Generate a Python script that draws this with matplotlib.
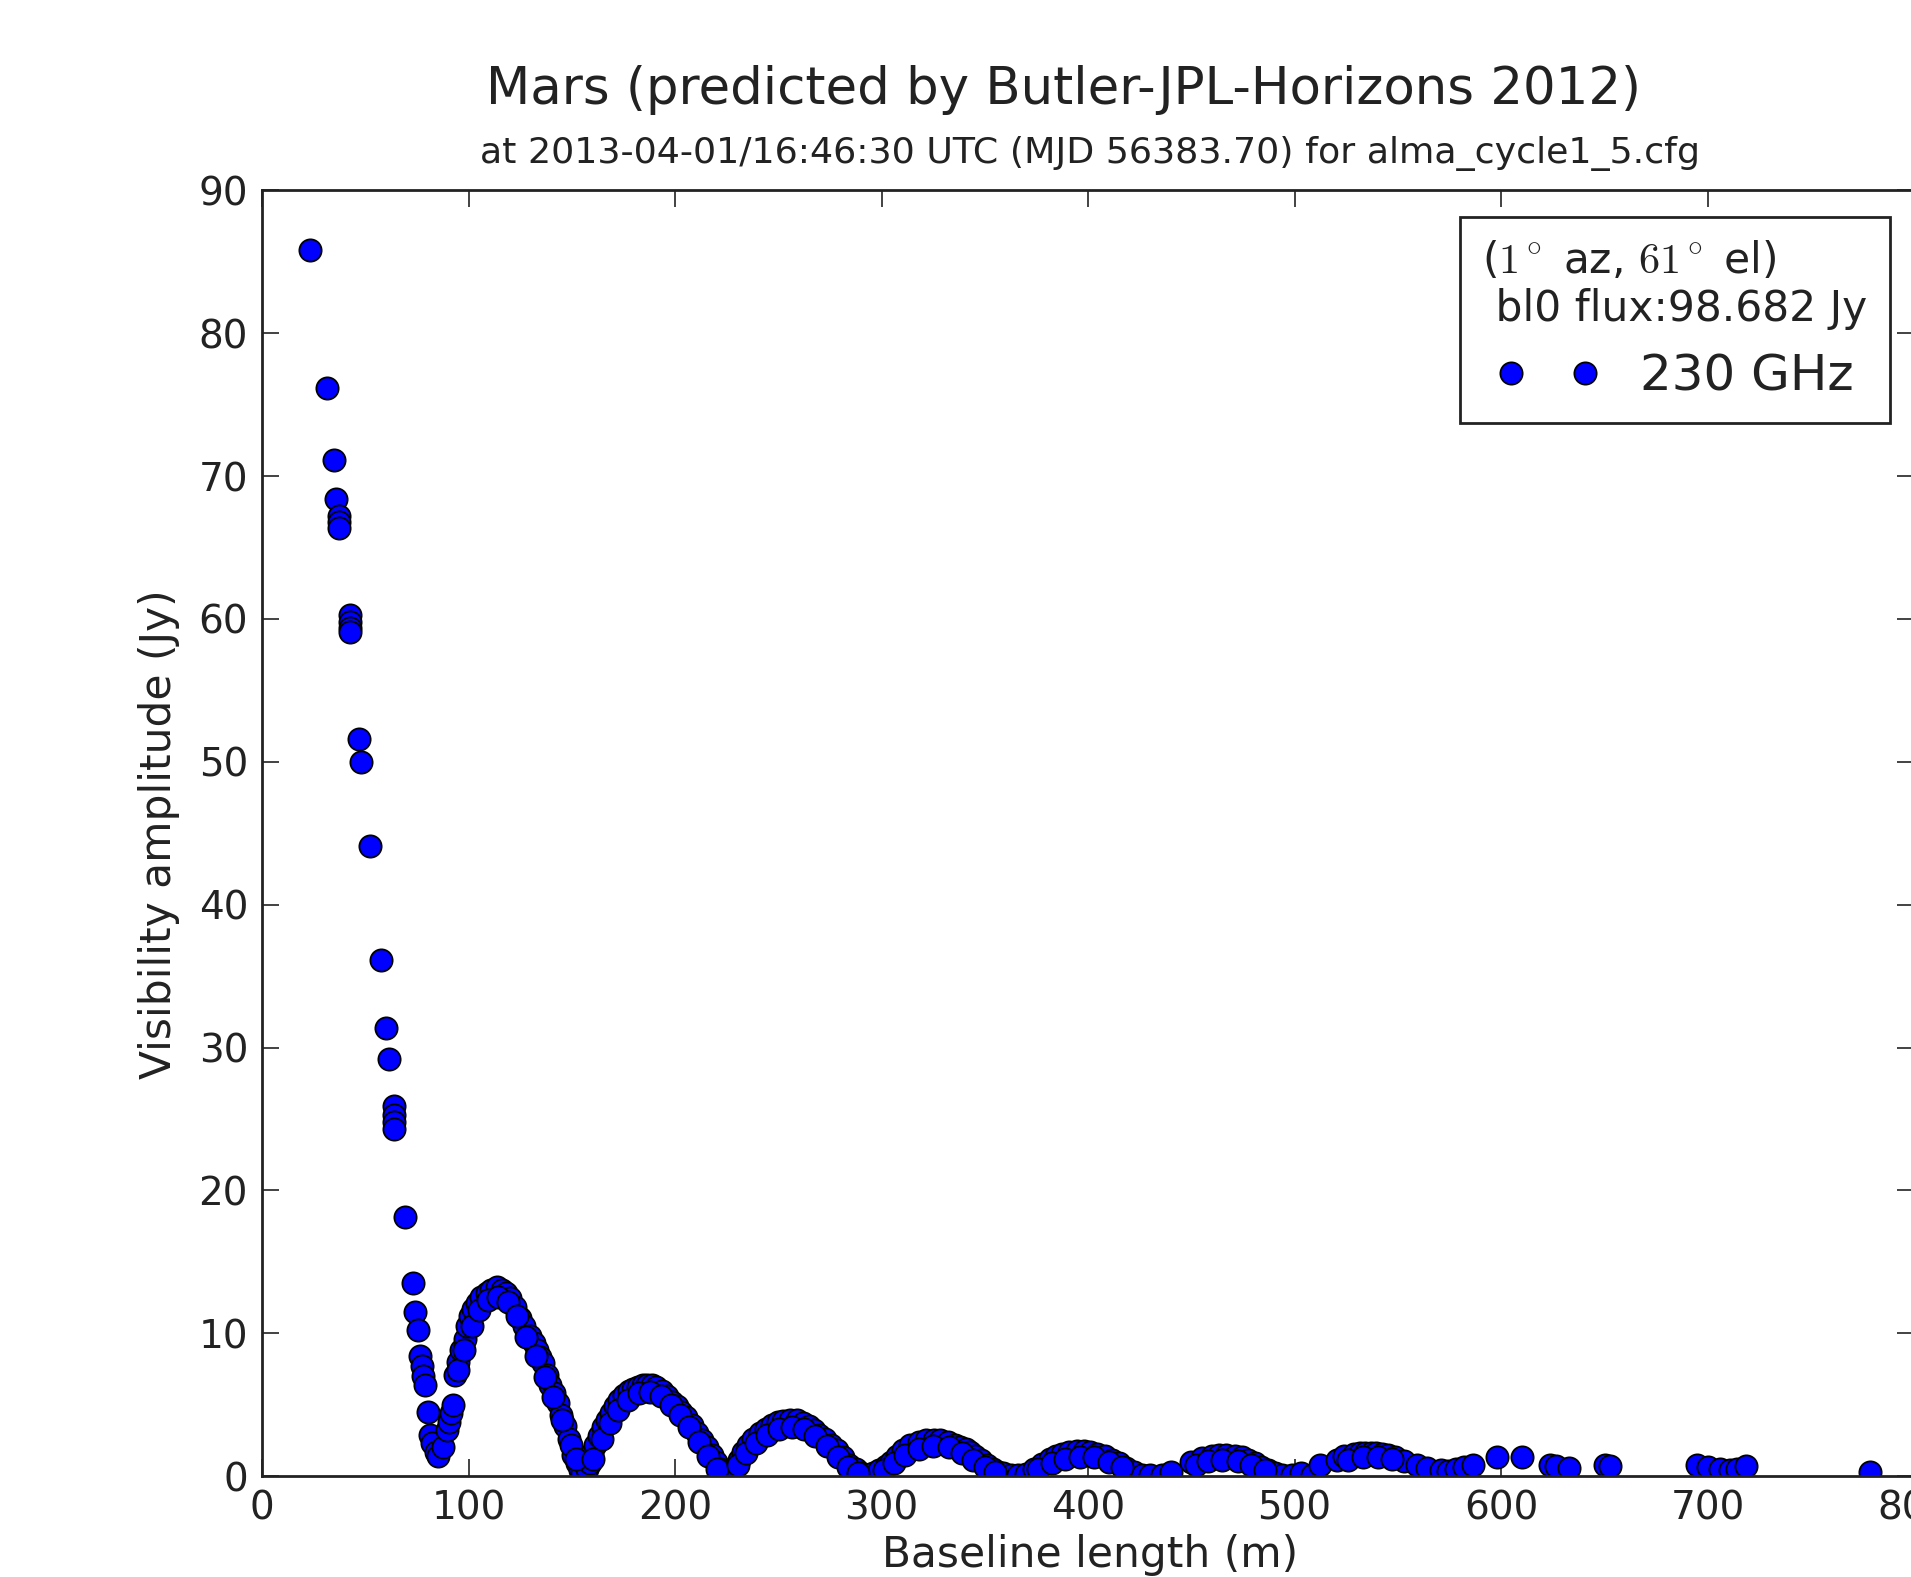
import matplotlib
matplotlib.use("Agg")
import matplotlib.pyplot as plt

# baseline length (m) and visibility amplitude (Jy)
baseline_m = [
    23.4, 31.3, 34.9, 36.0, 37.2, 37.3, 37.4, 42.4, 42.6, 42.6, 42.5,
    47.2, 48.1, 52.5, 57.8, 60.2, 61.4, 63.8, 63.9, 64.0, 63.9, 69.1,
    73.3, 74.1, 75.7, 76.5, 77.5, 78.1, 78.9, 80.5, 81.4, 82.2, 84.2, 85.4,
    87.5, 89.6, 90.4, 91.3, 92.5,
    93.5, 95.1, 96.5, 98.3, 99.5, 100.7, 102.3, 104.0, 106.0, 108.8, 111.0,
    113.7, 116.0, 118.0, 120.1, 122.5, 124.9, 127.0, 129.8, 131.5, 133.0,
    134.5, 136.2, 138.0, 139.5, 141.5, 143.5, 145.0, 146.7, 148.5, 150.8,
    152.5, 154.0, 155.0,
    157.5, 158.8, 160.0, 161.3, 163.0, 165.0, 166.9, 169.0, 170.9, 173.0,
    175.5, 177.5, 179.8, 182.0, 184.5, 186.5, 188.7, 191.0, 193.5, 196.0,
    198.5, 200.8, 203.0, 205.5, 208.1, 210.5, 212.9, 215.5, 217.8, 220.0,
    221.8, 223.5,
    227.0, 229.0, 231.0, 233.0, 235.5, 238.0, 241.2, 244.0, 247.0, 250.0,
    252.4, 255.5, 258.9, 262.1, 265.0, 267.5, 269.9, 272.5, 275.5, 278.5,
    281.5, 284.5, 287.5, 290.0, 292.3,
    296.0, 299.0, 302.0, 304.5, 307.5, 310.5, 314.0, 318.3, 321.5, 325.2,
    328.5, 332.0, 335.6, 338.0, 340.8, 343.0, 345.1, 348.0, 351.0, 353.8,
    356.5, 358.9, 362.5, 366.0,
    370.2, 374.0, 377.5, 381.4, 384.5, 387.5, 391.0, 394.5, 397.9, 401.0,
    404.5, 408.2, 411.5, 415.2, 418.5, 422.1, 426.0, 430.0, 435.9, 440.2,
    449.7, 455.0, 460.1, 463.5, 467.0, 471.0, 474.5, 477.4, 481.0, 484.0,
    487.0, 490.4, 494.0, 499.0, 503.0, 508.5, 512.3,
    520.6, 524.0, 528.8, 531.5, 534.2, 537.0, 539.7, 542.5, 545.2, 548.9,
    553.0, 559.4, 564.0, 570.8, 574.5, 578.1, 582.0, 586.3, 598.2, 610.0,
    623.7, 626.5, 632.8, 650.5, 653.0, 694.9, 700.0, 705.9, 711.0, 714.1,
    718.6, 778.8,
]
amplitude_jy = [
    85.8, 76.2, 71.1, 68.4, 67.2, 66.8, 66.4, 60.3, 59.8, 59.4, 59.1,
    51.6, 50.0, 44.1, 36.1, 31.4, 29.2, 25.9, 25.3, 24.8, 24.3, 18.1,
    13.5, 11.5, 10.2, 8.4, 7.7, 7.0, 6.4, 4.5, 2.9, 2.3, 1.7, 1.4,
    2.0, 3.2, 3.8, 4.4, 5.0,
    7.1, 8.0, 8.8, 9.6, 10.5, 11.2, 11.7, 12.1, 12.5, 12.8, 13.0,
    13.2, 13.0, 12.8, 12.45, 11.8, 11.05, 10.5, 9.8, 9.3, 8.8,
    8.3, 7.9, 7.1, 6.4, 5.8, 5.1, 4.3, 3.5, 2.6, 1.5,
    0.9, 0.4, 0.2,
    0.5, 0.9, 1.6, 2.2, 2.8, 3.4, 3.9, 4.4, 4.9, 5.3,
    5.7, 5.95, 6.1, 6.25, 6.35, 6.4, 6.4, 6.2, 5.95, 5.6,
    5.2, 4.9, 4.5, 4.1, 3.6, 3.0, 2.5, 2.0, 1.5, 1.0,
    0.5, 0.2,
    0.3, 0.65, 1.1, 1.7, 2.2, 2.6, 3.0, 3.3, 3.55, 3.75,
    3.85, 3.9, 3.9, 3.7, 3.5, 3.2, 2.9, 2.6, 2.2, 1.8,
    1.3, 0.8, 0.5, 0.2, 0.1,
    0.2, 0.45, 0.7, 1.0, 1.4, 1.8, 2.15, 2.4, 2.5, 2.55,
    2.5, 2.4, 2.2, 2.05, 1.9, 1.65, 1.4, 1.1, 0.8, 0.5,
    0.3, 0.2, 0.1, 0.1,
    0.15, 0.5, 0.85, 1.2, 1.4, 1.55, 1.65, 1.75, 1.75, 1.7,
    1.55, 1.4, 1.15, 0.9, 0.55, 0.3, 0.1, 0.05, 0.05, 0.3,
    1.0, 1.25, 1.4, 1.45, 1.45, 1.4, 1.3, 1.15, 0.9, 0.65,
    0.4, 0.2, 0.1, 0.05, 0.2, 0.1, 0.75,
    1.15, 1.4, 1.55, 1.6, 1.6, 1.6, 1.6, 1.55, 1.5, 1.35,
    1.05, 0.8, 0.55, 0.4, 0.35, 0.5, 0.6, 0.8, 1.3, 1.3,
    0.8, 0.7, 0.55, 0.75, 0.7, 0.75, 0.6, 0.5, 0.45, 0.5,
    0.7, 0.3,
]

# second, slightly lower row of points visible inside the thick lobes
baseline_m_inner = [
    95.0, 98.0, 101.5, 105.0, 109.5, 114.5, 119.0, 123.5, 128.0, 132.5,
    137.0, 141.0, 145.5, 149.5, 152.0,
    160.5, 164.5, 168.5, 172.5, 177.0, 182.5, 188.0, 193.0, 198.0, 202.5,
    207.0, 211.5, 216.0, 220.5,
    230.5, 234.5, 239.0, 244.5, 250.5, 256.5, 262.5, 268.0, 273.5, 279.0,
    284.0, 288.5,
    301.0, 306.0, 311.5, 318.0, 325.0, 332.5, 339.0, 344.5, 350.0, 355.0,
    376.0, 382.5, 389.0, 396.0, 403.0, 410.0, 416.5,
    452.5, 458.0, 465.0, 472.5, 479.0, 485.5,
    526.0, 533.0, 540.5, 547.0,
]
amplitude_jy_inner = [
    7.4, 8.8, 10.5, 11.6, 12.3, 12.5, 12.2, 11.2, 9.7, 8.4,
    6.9, 5.5, 3.9, 2.2, 1.2,
    1.2, 2.6, 3.7, 4.6, 5.3, 5.8, 5.9, 5.6, 5.0, 4.3,
    3.4, 2.4, 1.4, 0.5,
    0.8, 1.6, 2.3, 2.9, 3.3, 3.4, 3.3, 2.8, 2.1, 1.3,
    0.6, 0.2,
    0.4, 0.9, 1.5, 1.9, 2.1, 2.0, 1.6, 1.1, 0.6, 0.25,
    0.5, 0.9, 1.2, 1.35, 1.3, 1.0, 0.6,
    0.8, 1.05, 1.15, 1.05, 0.75, 0.4,
    1.1, 1.3, 1.35, 1.2,
]

title_main = "Mars (predicted by Butler-JPL-Horizons 2012)"
title_sub = "at 2013-04-01/16:46:30 UTC (MJD 56383.70) for alma_cycle1_5.cfg"
legend_title = "($1^\\circ$ az, $61^\\circ$ el)\n bl0 flux:98.682 Jy"
series_label = "230 GHz"

plt.rcParams['mathtext.fontset'] = 'cm'

W, H = 1911, 1577
fig = plt.figure(figsize=(W / 100, H / 100), dpi=100)
ax = fig.add_axes([262 / W, 1 - 1476 / H, (1914 - 262) / W, (1476 - 190.5) / H])

ax.plot(baseline_m + baseline_m_inner, amplitude_jy + amplitude_jy_inner, 'o',
        color='#0000ff', markeredgecolor='black', markeredgewidth=1.3,
        markersize=16, label=series_label)

ax.set_xlim(0, 800)
ax.set_ylim(0, 90)
ax.set_xticks(range(0, 801, 100))
ax.set_yticks(range(0, 91, 10))
ax.tick_params(direction='in', length=12, width=1.2, labelsize=28, pad=10,
               top=True, right=True, colors='#222222', labelcolor='#222222')
for s in ax.spines.values():
    s.set_linewidth(2.0)
    s.set_color('#222222')

fig.text(1063 / W, 1 - 104 / H, title_main, ha='center', va='baseline',
         fontsize=37, color='#222222')
fig.text(1090 / W, 1 - 163 / H, title_sub, ha='center', va='baseline',
         fontsize=26.2, color='#222222')
fig.text(1090 / W, 1 - 1567 / H, "Baseline length (m)", ha='center',
         va='baseline', fontsize=30.5, color='#222222')
fig.text(159 / W, 1 - 834 / H, "Visibility amplitude (Jy)", ha='center',
         va='center', rotation=90, fontsize=30.5, color='#222222')

leg = ax.legend(loc='upper right', bbox_to_anchor=(1890 / W, 1 - 217 / H),
                bbox_transform=fig.transFigure, borderaxespad=0,
                numpoints=2, fontsize=36, title=legend_title,
                title_fontsize=30.5, fancybox=False, framealpha=1,
                edgecolor='#222222', borderpad=0.45, handlelength=2.08,
                handletextpad=0.8, labelspacing=0.45)
leg.get_frame().set_linewidth(2.0)
plt.setp(leg.get_title(), color='#222222')
plt.setp(leg.get_texts(), color='#222222')

fig.savefig("out.png", dpi=100)
